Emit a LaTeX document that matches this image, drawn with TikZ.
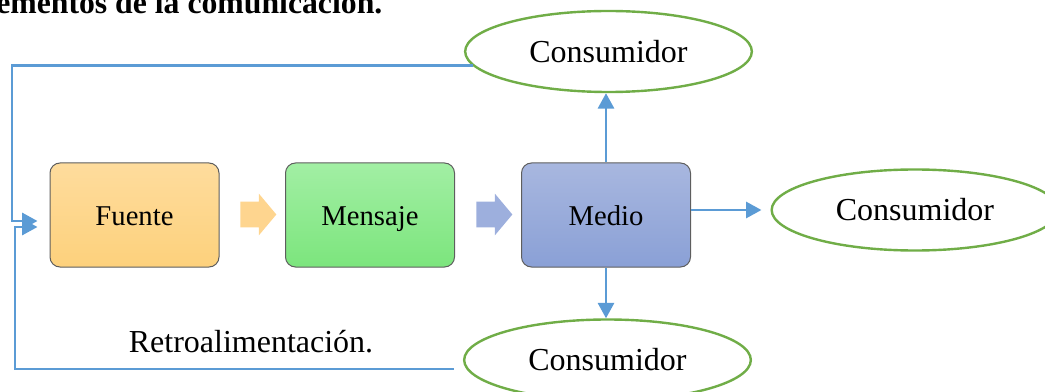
\documentclass[tikz,border=0pt]{standalone}
\usepackage{fontspec}
\setmainfont{Liberation Serif}
\usetikzlibrary{shapes.geometric,shapes.arrows,arrows.meta}
\definecolor{enlace}{HTML}{5B9BD5}
\definecolor{verdecons}{HTML}{70AD47}
\definecolor{borde}{HTML}{5E5E5E}
\definecolor{fuentearriba}{HTML}{FEDC9D}
\definecolor{fuenteabajo}{HTML}{FDD17C}
\definecolor{mensajearriba}{HTML}{A2EFA4}
\definecolor{mensajeabajo}{HTML}{7CE57D}
\definecolor{medioarriba}{HTML}{A8B7DF}
\definecolor{medioabajo}{HTML}{8AA0D6}
\definecolor{flechanaranja}{HTML}{FED58F}
\definecolor{flechaazul}{HTML}{9DAFDD}
\begin{document}
\begin{tikzpicture}[x=0.75pt,y=-0.75pt,
	caja/.style={rectangle,rounded corners=7.5pt,draw=borde,line width=0.75pt,minimum width=126.75pt,minimum height=78pt,text height=16pt,text depth=0pt,font=\fontsize{21.5}{24}\selectfont},
	consumidor/.style={ellipse,draw=verdecons,line width=1.8pt,fill=white,minimum width=215pt,minimum height=60.75pt,inner sep=0pt,font=\fontsize{24}{28}\selectfont},
	bloque/.style={single arrow,draw=none,inner sep=0pt,inner ysep=9.375pt,minimum height=27pt,minimum width=30.75pt,single arrow head extend=6pt,single arrow tip angle=100},
	enlaceazul/.style={draw=enlace,line width=2pt},
	puntaazul/.style={-{Triangle[length=11.5pt,width=12pt]}}]
	\useasboundingbox (0,0) rectangle (1045,392);
	\node[anchor=base west,inner sep=0pt,font=\bfseries\fontsize{23.8}{28}\selectfont] (titulo) at (-4,14) {ementos de la comunicación.};
	\node[caja,top color=fuentearriba,bottom color=fuenteabajo] (fuente) at (134.5,215) {Fuente};
	\node[caja,top color=mensajearriba,bottom color=mensajeabajo] (mensaje) at (370,215) {Mensaje};
	\node[caja,top color=medioarriba,bottom color=medioabajo] (medio) at (606,215) {Medio};
	\node[bloque,fill=flechanaranja] (ar1) at (253,214.5) {};
	\node[bloque,fill=flechaazul] (ar2) at (489,214.5) {};
	\node[consumidor] (c1) at (608.5,51.5) {Consumidor};
	\node[consumidor] (c2) at (915,210) {Consumidor};
	\node[consumidor] (c3) at (607.5,360) {Consumidor};
	\node[anchor=base,inner sep=0pt,font=\fontsize{24}{28}\selectfont] (retro) at (251,352) {Retroalimentación.};
	\coordinate (esqarriba) at (12,221);
	\coordinate (esqabajo) at (15,227);
	\coordinate (finabajo) at ([shift={(-9,9)}]c3.west);
	\draw[enlaceazul,puntaazul] (medio.north) -- (medio.north |- c1.south);
	\draw[enlaceazul,puntaazul,shorten >=6.75pt] (medio.east |- c2.west) -- (c2.west);
	\draw[enlaceazul,puntaazul] (medio.south) -- (medio.south |- c3.north);
	\draw[enlaceazul,puntaazul,shorten >=9pt] (c1.186) -| (esqarriba) -- (esqarriba -| fuente.west);
	\draw[enlaceazul,puntaazul,shorten >=9pt] (finabajo) -| (esqabajo) -- (esqabajo -| fuente.west);
\end{tikzpicture}
\end{document}
